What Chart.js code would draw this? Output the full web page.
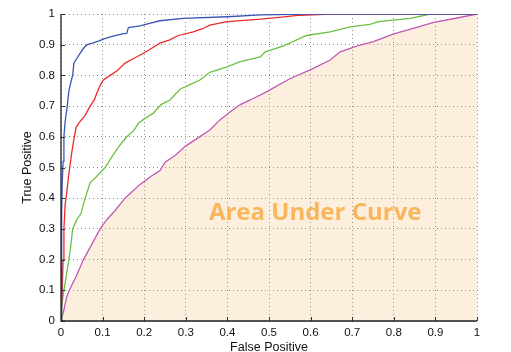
<!DOCTYPE html>
<html>
<head>
<meta charset="utf-8">
<script src="https://cdn.jsdelivr.net/npm/chart.js@4.4.1/dist/chart.umd.min.js"></script>
<style>
html,body{margin:0;padding:0;background:#fff;}
#wrap{width:511px;height:352px;position:relative;}
</style>
</head>
<body>
<div id="wrap"><canvas id="c" width="511" height="352"></canvas></div>
<script>
// ---- data ----
const tickValues = [0,0.1,0.2,0.3,0.4,0.5,0.6,0.7,0.8,0.9,1];
const xTitle = "False Positive";
const yTitle = "True Positive";
const annotationText = "Area Under Curve";

const blueFpr = [0,0.001,0.002,0.003,0.005,0.007,0.010,0.015,0.019,0.024,0.028,0.031,0.038,0.045,0.055,0.063,0.075,0.09,0.105,0.125,0.15,0.158,0.162,0.19,0.215,0.238,0.294,0.4,0.48,0.6,1];
const blueTpr = [0,0.15,0.35,0.45,0.52,0.6,0.65,0.7,0.75,0.78,0.8,0.84,0.855,0.87,0.89,0.9,0.905,0.912,0.92,0.928,0.936,0.937,0.956,0.961,0.97,0.978,0.986,0.991,0.997,1,1];

const redFpr = [0,0.003,0.005,0.007,0.01,0.014,0.018,0.021,0.026,0.032,0.036,0.046,0.058,0.07,0.08,0.086,0.095,0.102,0.118,0.135,0.154,0.175,0.198,0.22,0.238,0.26,0.282,0.318,0.34,0.358,0.399,0.48,0.53,0.575,0.65,1];
const redTpr = [0,0.1,0.2,0.3,0.38,0.42,0.47,0.5,0.55,0.6,0.63,0.65,0.67,0.7,0.72,0.742,0.77,0.785,0.8,0.815,0.84,0.855,0.872,0.89,0.905,0.915,0.93,0.942,0.952,0.964,0.975,0.983,0.99,0.996,1,1];

const greenFpr = [0,0.002,0.007,0.013,0.019,0.024,0.028,0.038,0.048,0.058,0.07,0.085,0.106,0.12,0.14,0.158,0.175,0.186,0.202,0.222,0.24,0.262,0.286,0.31,0.334,0.358,0.399,0.431,0.479,0.491,0.535,0.59,0.647,0.695,0.743,0.763,0.84,0.888,1];
const greenTpr = [0,0.05,0.1,0.15,0.2,0.25,0.3,0.33,0.35,0.4,0.45,0.47,0.5,0.53,0.57,0.6,0.62,0.644,0.66,0.677,0.705,0.72,0.755,0.77,0.785,0.81,0.828,0.845,0.86,0.877,0.896,0.93,0.942,0.958,0.966,0.975,0.986,1,1];

const magentaFpr = [0,0.007,0.014,0.02,0.038,0.054,0.07,0.082,0.094,0.11,0.13,0.154,0.17,0.19,0.215,0.238,0.25,0.275,0.298,0.322,0.358,0.382,0.41,0.431,0.455,0.495,0.551,0.599,0.647,0.671,0.695,0.719,0.751,0.8,0.847,0.896,0.952,1];
const magentaTpr = [0,0.036,0.08,0.1,0.15,0.2,0.24,0.27,0.3,0.33,0.36,0.4,0.42,0.445,0.47,0.49,0.517,0.54,0.568,0.59,0.622,0.655,0.685,0.705,0.72,0.747,0.79,0.818,0.85,0.877,0.888,0.899,0.91,0.935,0.953,0.973,0.987,1];

const toPoints = (xs, ys) => xs.map((x, i) => ({x: x, y: ys[i]}));

const axisFont = {family: "'Liberation Sans', Arial, sans-serif", size: 11.5};
const titleFont = {family: "'Liberation Sans', Arial, sans-serif", size: 12.5, lineHeight: 1};

const overlay = {
  id: 'overlay',
  afterDatasetsDraw(chart) {
    const ctx = chart.ctx;
    const xs = chart.scales.x, ys = chart.scales.y;
    const ca = chart.chartArea;
    ctx.save();
    // inward tick marks
    ctx.strokeStyle = '#333';
    ctx.lineWidth = 1;
    ctx.beginPath();
    tickValues.forEach(v => {
      const px = Math.round(xs.getPixelForValue(v)) + 0.5;
      ctx.moveTo(px, ca.bottom); ctx.lineTo(px, ca.bottom - 4);
      const py = Math.round(ys.getPixelForValue(v)) + 0.5;
      ctx.moveTo(ca.left, py); ctx.lineTo(ca.left + 4, py);
    });
    ctx.stroke();
    // axis lines (left & bottom)
    ctx.strokeStyle = '#222';
    ctx.lineWidth = 1.3;
    ctx.beginPath();
    ctx.moveTo(ca.left, ca.top); ctx.lineTo(ca.left, ca.bottom); ctx.lineTo(ca.right, ca.bottom);
    ctx.stroke();
    // annotation
    ctx.fillStyle = '#f9b65a';
    ctx.font = "bold 24px 'Open Sans', sans-serif";
    ctx.textAlign = 'center';
    ctx.textBaseline = 'middle';
    ctx.fillText(annotationText, xs.getPixelForValue(0.611), ys.getPixelForValue(0.352));
    ctx.restore();
  }
};

const lineDs = (label, xs, ys, color, extra) => Object.assign({
  label: label,
  data: toPoints(xs, ys),
  borderColor: color,
  borderWidth: 1.3,
  pointRadius: 0,
  tension: 0,
  showLine: true,
  fill: false
}, extra || {});

new Chart(document.getElementById('c'), {
  type: 'scatter',
  data: {
    datasets: [
      lineDs('blue', blueFpr, blueTpr, '#3a55b4'),
      lineDs('red', redFpr, redTpr, '#ee2a2a'),
      lineDs('green', greenFpr, greenTpr, '#6cc043'),
      lineDs('magenta', magentaFpr, magentaTpr, '#c058b4', {fill: 'origin', backgroundColor: 'rgba(247,191,119,0.25)'})
    ]
  },
  options: {
    responsive: false,
    animation: false,
    events: [],
    layout: {padding: {top: 14, right: 34, bottom: 0, left: 0}},
    plugins: {legend: {display: false}, tooltip: {enabled: false}},
    scales: {
      x: {
        type: 'linear', min: 0, max: 1,
        afterBuildTicks: s => { s.ticks = tickValues.map(v => ({value: v})); },
        afterFit: s => { s.height = 31; },
        ticks: {
          color: '#111', font: axisFont, padding: 5, maxRotation: 0,
          callback: v => String(+v.toFixed(1))
        },
        grid: {color: '#8a8a8a', lineWidth: 1, drawTicks: false},
        border: {display: false, dash: [1, 3]},
        title: {display: true, text: xTitle, color: '#111', font: titleFont, padding: {top: 0, bottom: -2}}
      },
      y: {
        type: 'linear', min: 0, max: 1,
        afterBuildTicks: s => { s.ticks = tickValues.map(v => ({value: v})); },
        afterFit: s => { s.width = 61; },
        ticks: {
          color: '#111', font: axisFont, padding: 6,
          callback: v => String(+v.toFixed(1))
        },
        grid: {color: '#8a8a8a', lineWidth: 1, drawTicks: false},
        border: {display: false, dash: [1, 3]},
        title: {display: true, text: yTitle, color: '#111', font: titleFont, padding: {top: 21, bottom: 0}}
      }
    }
  },
  plugins: [overlay]
});
</script>
</body>
</html>
